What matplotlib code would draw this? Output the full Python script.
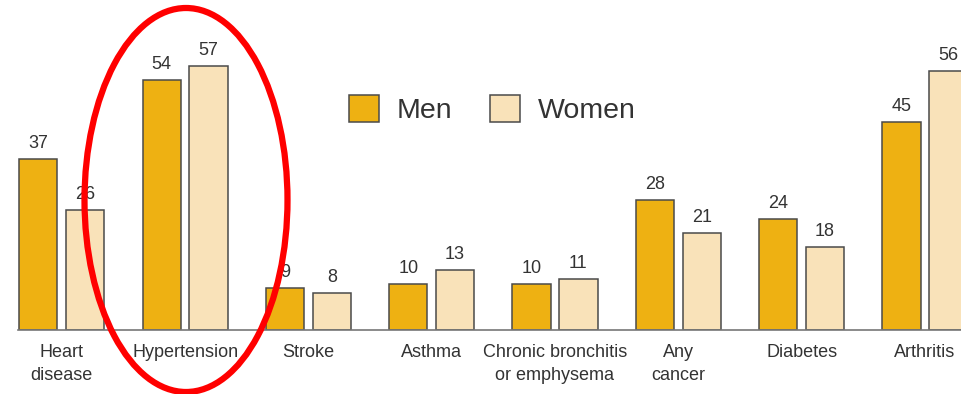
import matplotlib
matplotlib.use("Agg")
import matplotlib.pyplot as plt
import numpy as np
from matplotlib.patches import Ellipse

plt.rcParams['font.family'] = ['Liberation Sans', 'DejaVu Sans']

categories = ["Heart\ndisease", "Hypertension", "Stroke", "Asthma",
              "Chronic bronchitis\nor emphysema", "Any\ncancer", "Diabetes", "Arthritis"]
men = [37, 54, 9, 10, 10, 28, 24, 45]
women = [26, 57, 8, 13, 11, 21, 18, 56]

MEN_COLOR = "#EEB112"
WOMEN_COLOR = "#F9E2B9"
EDGE = "#4a4a4a"
TEXT = "#333333"

fig = plt.figure(figsize=(9.61, 3.94), dpi=100)
ax = fig.add_axes([18 / 961, 64 / 394, 943 / 961, 330 / 394])

x = np.arange(len(categories))
w = 0.31
off = 0.19
b_men = ax.bar(x - off, men, w, color=MEN_COLOR, edgecolor=EDGE, linewidth=1.1, label="Men")
b_women = ax.bar(x + off, women, w, color=WOMEN_COLOR, edgecolor=EDGE, linewidth=1.1, label="Women")

ax.bar_label(b_men, padding=5, fontsize=13, color=TEXT)
ax.bar_label(b_women, padding=5, fontsize=13, color=TEXT)

ax.set_xlim(-0.355, 7.293)
ax.set_ylim(0, 71.3)
ax.set_xticks(x)
ax.set_xticklabels(categories, fontsize=13, color=TEXT, linespacing=1.45)
ax.tick_params(axis='x', length=0, pad=10)
ax.set_yticks([])
for s in ["top", "right", "left"]:
    ax.spines[s].set_visible(False)
ax.spines["bottom"].set_color("#777777")
ax.spines["bottom"].set_linewidth(1.2)

leg = ax.legend(loc="center", bbox_to_anchor=(0.503, 0.667), ncol=2, frameon=False,
                fontsize=20.5, handlelength=1.05, handleheight=1.05,
                handletextpad=0.62, columnspacing=1.35, labelcolor=TEXT)

# red highlight around the hypertension group
ell = Ellipse((186 / 961, 1 - 200 / 394), 203 / 961, 384 / 394,
              transform=fig.transFigure, fill=False, edgecolor="#FF0000",
              linewidth=4.5, zorder=10)
fig.add_artist(ell)

fig.savefig("out.png", dpi=100)
